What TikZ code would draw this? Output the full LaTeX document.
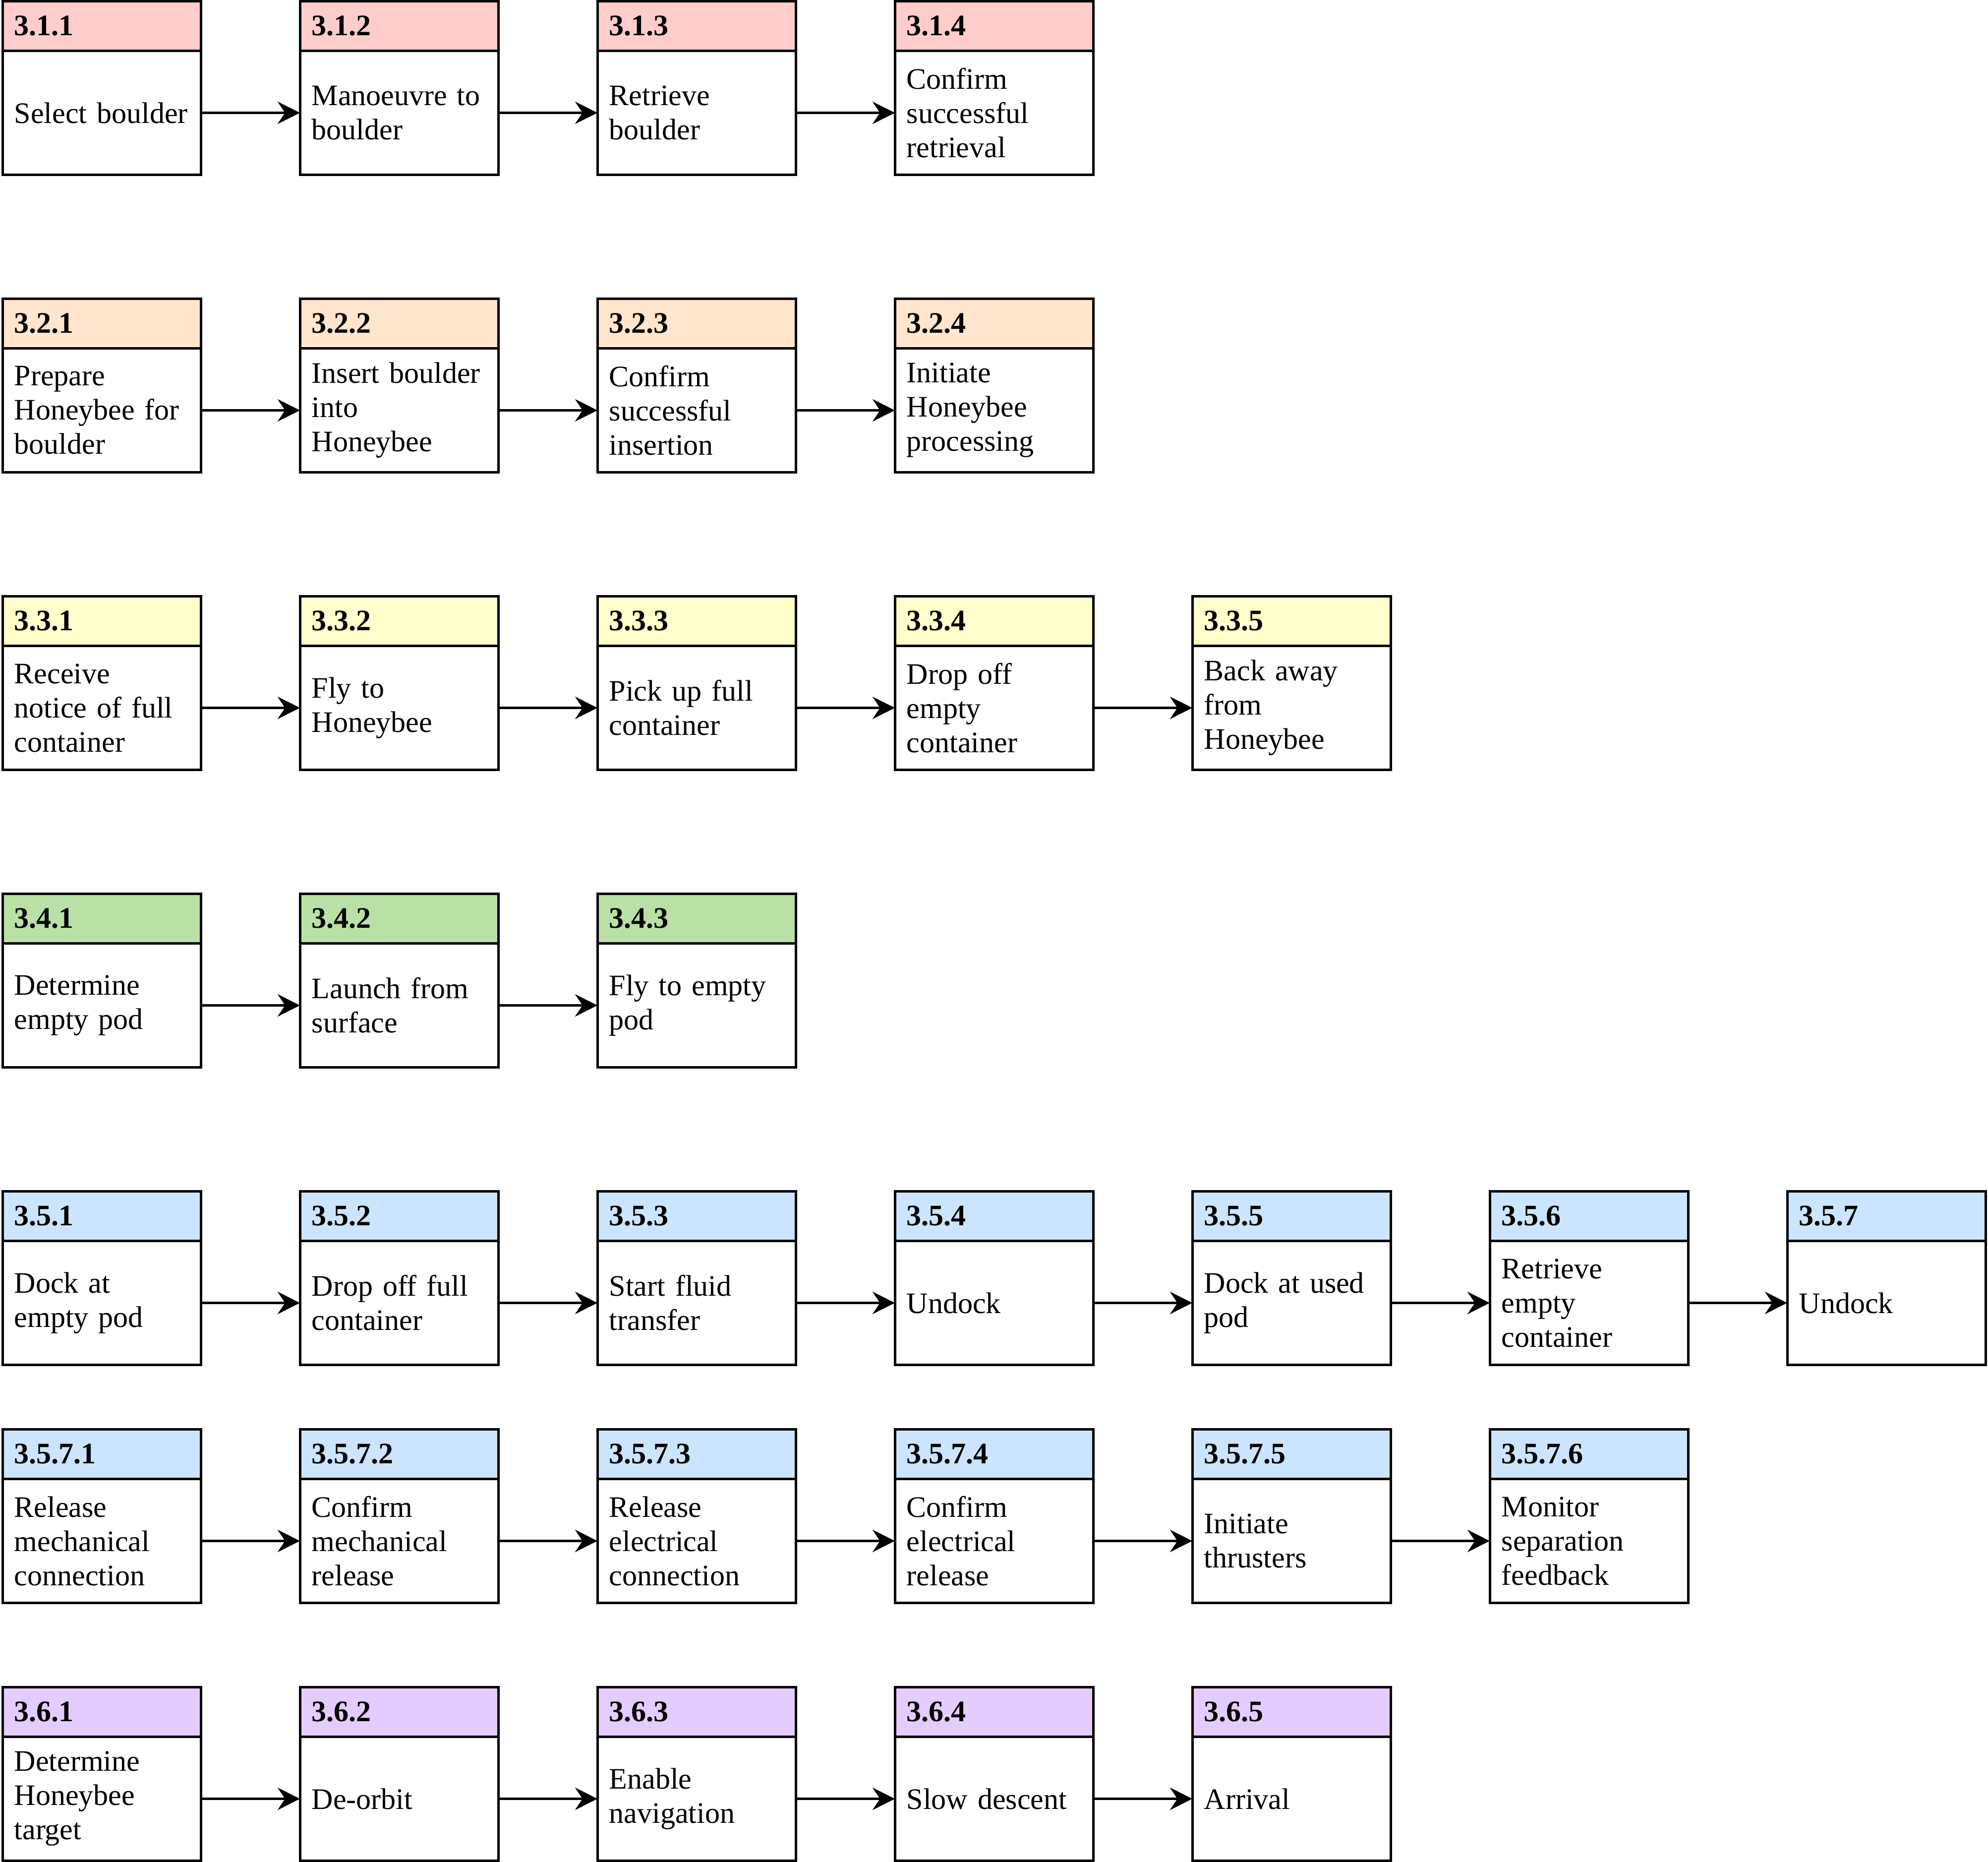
\documentclass[tikz,border=0pt]{standalone}
\usepackage{fontspec}
\setmainfont{Liberation Serif}
\usepackage{xcolor}
\usepackage{tikz}
\usetikzlibrary{positioning,arrows.meta}

\definecolor{laneRed}{HTML}{FFCCCC}
\definecolor{laneOrange}{HTML}{FFE6CC}
\definecolor{laneYellow}{HTML}{FFFFCC}
\definecolor{laneGreen}{HTML}{B9E0A5}
\definecolor{laneBlue}{HTML}{CCE5FF}
\definecolor{lanePurple}{HTML}{E5CCFF}

\newcommand{\nohyph}{\hyphenpenalty=10000\relax}

% one task: x, y, colour, name, number, text
\newcommand{\taskbox}[6]{%
    \node[head, fill=#3] (h#4) at (#1,#2) {#5};
    \node[body, below=0pt of h#4] (b#4) {#6};
}

\begin{document}
\begin{tikzpicture}[
    x=1pt, y=-1pt,
    head/.style={
        draw,
        line width=2pt,
        anchor=north west,
        minimum width=160pt,
        minimum height=40pt,
        text width=141pt,
        inner xsep=9.5pt,
        inner ysep=0pt,
        outer sep=0pt,
        align=left,
        font=\fontsize{24}{27.6}\selectfont\bfseries
    },
    body/.style={
        draw,
        fill=white,
        line width=2pt,
        minimum height=100pt,
        text width=141pt,
        inner xsep=9.5pt,
        inner ysep=3pt,
        outer sep=0pt,
        align=left,
        font=\fontsize{24}{27.6}\selectfont\nohyph
    },
    edge/.style={-{Stealth[length=18pt, width=18pt, inset=6pt]}, line width=2pt}
]
\useasboundingbox (-2,-1) rectangle (1602,1501);

% 3.1
\taskbox{0}{0}{laneRed}{311}{3.1.1}{Select boulder}
\taskbox{240}{0}{laneRed}{312}{3.1.2}{Manoeuvre to\\boulder}
\taskbox{480}{0}{laneRed}{313}{3.1.3}{Retrieve\\boulder}
\taskbox{720}{0}{laneRed}{314}{3.1.4}{Confirm\\successful\\retrieval}

% 3.2
\taskbox{0}{240}{laneOrange}{321}{3.2.1}{Prepare\\Honeybee for\\boulder}
\taskbox{240}{240}{laneOrange}{322}{3.2.2}{Insert boulder\\into\\Honeybee}
\taskbox{480}{240}{laneOrange}{323}{3.2.3}{Confirm\\successful\\insertion}
\taskbox{720}{240}{laneOrange}{324}{3.2.4}{Initiate\\Honeybee\\processing}

% 3.3
\taskbox{0}{480}{laneYellow}{331}{3.3.1}{Receive\\notice of full\\container}
\taskbox{240}{480}{laneYellow}{332}{3.3.2}{Fly to\\Honeybee}
\taskbox{480}{480}{laneYellow}{333}{3.3.3}{Pick up full\\container}
\taskbox{720}{480}{laneYellow}{334}{3.3.4}{Drop off\\empty\\container}
\taskbox{960}{480}{laneYellow}{335}{3.3.5}{Back away\\from\\Honeybee}

% 3.4
\taskbox{0}{720}{laneGreen}{341}{3.4.1}{Determine\\empty pod}
\taskbox{240}{720}{laneGreen}{342}{3.4.2}{Launch from\\surface}
\taskbox{480}{720}{laneGreen}{343}{3.4.3}{Fly to empty\\pod}

% 3.5
\taskbox{0}{960}{laneBlue}{351}{3.5.1}{Dock at\\empty pod}
\taskbox{240}{960}{laneBlue}{352}{3.5.2}{Drop off full\\container}
\taskbox{480}{960}{laneBlue}{353}{3.5.3}{Start fluid\\transfer}
\taskbox{720}{960}{laneBlue}{354}{3.5.4}{Undock}
\taskbox{960}{960}{laneBlue}{355}{3.5.5}{Dock at used\\pod}
\taskbox{1200}{960}{laneBlue}{356}{3.5.6}{Retrieve\\empty\\container}
\taskbox{1440}{960}{laneBlue}{357}{3.5.7}{Undock}

% 3.5.7
\taskbox{0}{1152}{laneBlue}{3571}{3.5.7.1}{Release\\mechanical\\connection}
\taskbox{240}{1152}{laneBlue}{3572}{3.5.7.2}{Confirm\\mechanical\\release}
\taskbox{480}{1152}{laneBlue}{3573}{3.5.7.3}{Release\\electrical\\connection}
\taskbox{720}{1152}{laneBlue}{3574}{3.5.7.4}{Confirm\\electrical\\release}
\taskbox{960}{1152}{laneBlue}{3575}{3.5.7.5}{Initiate\\thrusters}
\taskbox{1200}{1152}{laneBlue}{3576}{3.5.7.6}{Monitor\\separation\\feedback}

% 3.6
\taskbox{0}{1360}{lanePurple}{361}{3.6.1}{Determine\\Honeybee\\target}
\taskbox{240}{1360}{lanePurple}{362}{3.6.2}{De-orbit}
\taskbox{480}{1360}{lanePurple}{363}{3.6.3}{Enable\\navigation}
\taskbox{720}{1360}{lanePurple}{364}{3.6.4}{Slow descent}
\taskbox{960}{1360}{lanePurple}{365}{3.6.5}{Arrival}

\foreach \a/\b in {311/312, 312/313, 313/314,
                   321/322, 322/323, 323/324,
                   331/332, 332/333, 333/334, 334/335,
                   341/342, 342/343,
                   351/352, 352/353, 353/354, 354/355, 355/356, 356/357,
                   3571/3572, 3572/3573, 3573/3574, 3574/3575, 3575/3576,
                   361/362, 362/363, 363/364, 364/365}
    \draw[edge] (b\a) -- (b\b);

\end{tikzpicture}
\end{document}
